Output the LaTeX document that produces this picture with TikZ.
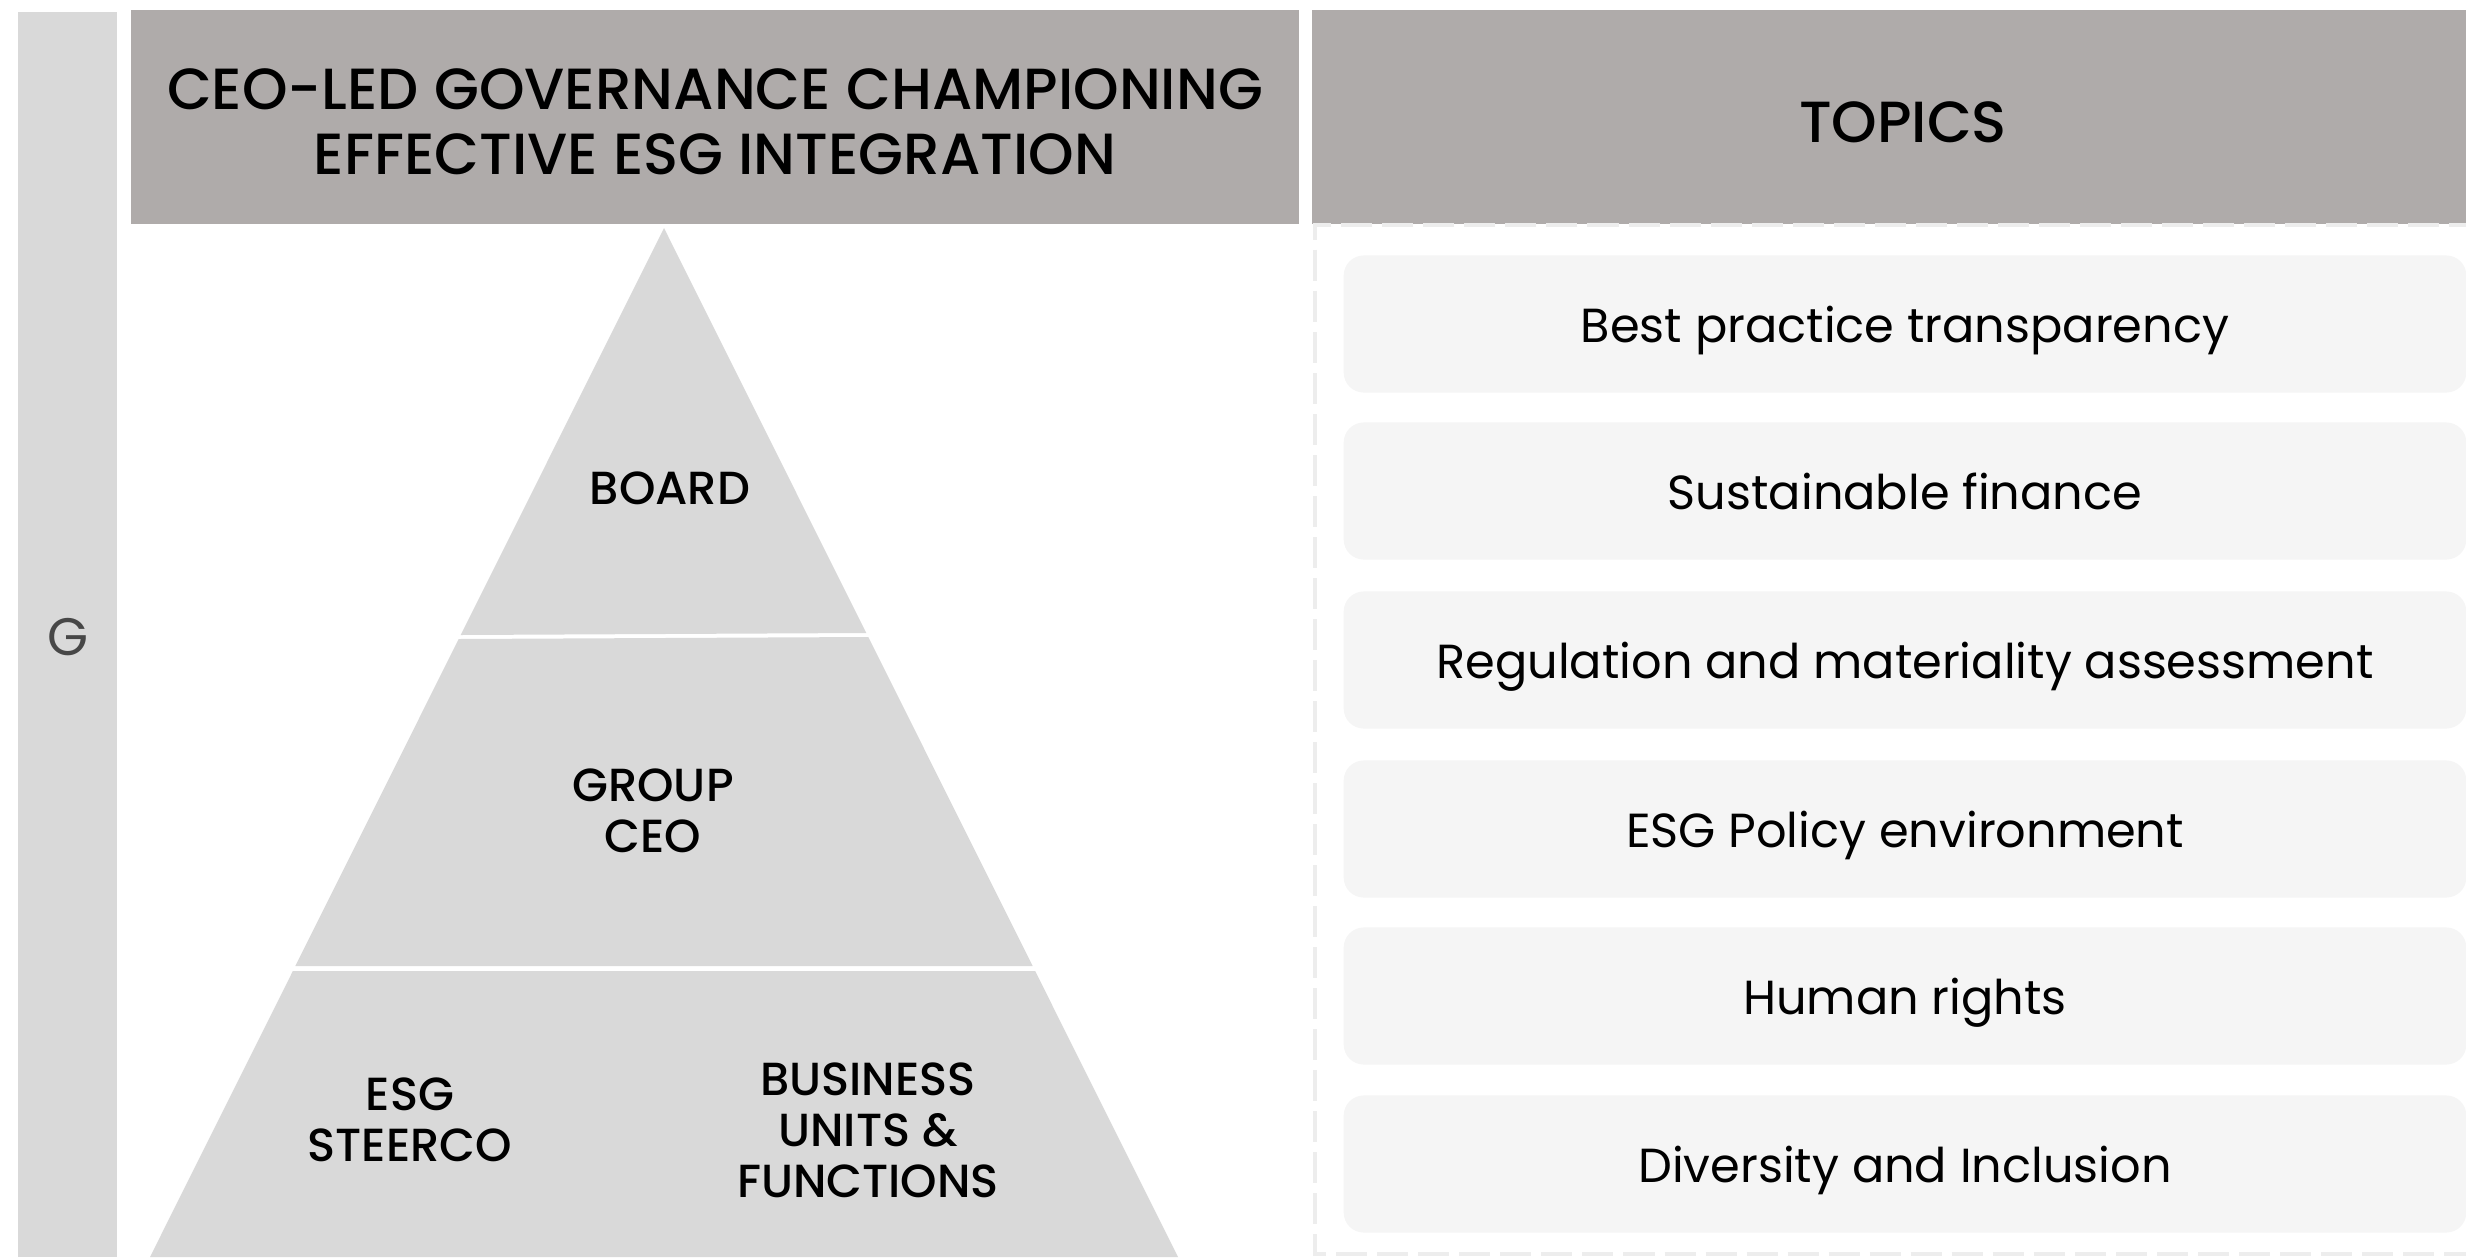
\documentclass[tikz,border=0pt]{standalone}
\usepackage{fontspec}
\setmainfont{Poppins}[BoldFont={* Medium}]
\usetikzlibrary{positioning}

\definecolor{headgray}{HTML}{AFABAA}
\definecolor{bandgray}{HTML}{D9D9D9}
\definecolor{topicfill}{HTML}{F5F5F5}
\definecolor{dashgray}{HTML}{EDEDED}

\begin{document}
\begin{tikzpicture}[x=0.01cm,y=-0.01cm,
  head/.style={font=\bfseries\fontsize{16.5}{18.4}\selectfont,align=center},
  level/.style={font=\bfseries\fontsize{13.2}{14.5}\selectfont,align=center},
  capmid/.style={text height=0.7em,text depth=0pt},
  topic/.style={fill=topicfill,rounded corners=0.2cm,minimum width=11.22cm,
    minimum height=1.37cm,text height=1.05em,text depth=0pt,
    font=\fontsize{13.6}{16}\selectfont}]

\useasboundingbox (0,0) rectangle (2466,1257);

\fill[bandgray] (18,12) rectangle (117,1257);
\node[font=\fontsize{15}{18}\selectfont,text=black!72,capmid] (gov) at (68,643) {G};

\fill[headgray] (131,10) rectangle (1299,224);
\fill[headgray] (1312,10) rectangle (2466,224);
\node[head] (title) at (715,122) {CEO-LED GOVERNANCE CHAMPIONING\\EFFECTIVE ESG INTEGRATION};
\node[head,capmid] (topics) at (1903,130) {TOPICS};

\draw[dashgray,line width=0.045cm,dash pattern=on 0.31cm off 0.1cm]
  (2480,225) -- (1315,225) -- (1315,1254) -- (2480,1254);

\pgfmathsetmacro{\slope}{514/1029}
\fill[bandgray] (664,228) -- ({664+\slope*(633-228)},633) -- ({664-\slope*(635-228)},635) -- cycle;
\fill[bandgray] ({664-\slope*(639-228)},639) -- ({664+\slope*(637-228)},637)
  -- ({664+\slope*(966-228)},966) -- ({664-\slope*(966-228)},966) -- cycle;
\fill[bandgray] ({664-\slope*(971-228)},971) -- ({664+\slope*(971-228)},971)
  -- (1178,1257) -- (150,1257) -- cycle;

\node[level,capmid] (board) at (670,492) {BOARD};
\node[level] (ceo) at (653,811) {GROUP\\CEO};
\node[level] (steerco) at (410,1120) {ESG\\STEERCO};
\node[level] (units) at (868,1130) {BUSINESS\\UNITS \&\\FUNCTIONS};

\foreach \txt/\yc [count=\i] in {Best practice transparency/324,Sustainable finance/491,
  Regulation and materiality assessment/660,ESG Policy environment/829,
  Human rights/996,Diversity and Inclusion/1164}
  \node[topic] (topic\i) at (1905,\yc) {\txt};

\end{tikzpicture}
\end{document}
